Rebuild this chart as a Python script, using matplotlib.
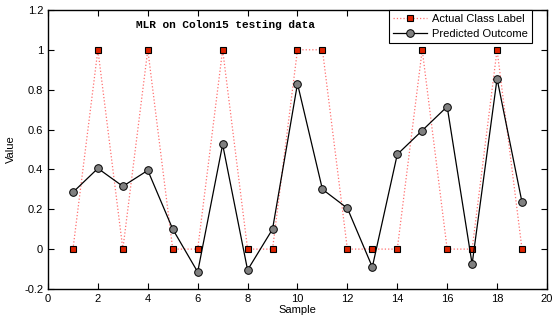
import matplotlib
matplotlib.use("Agg")
import matplotlib.pyplot as plt

samples = list(range(1, 20))
actual = [0, 1, 0, 1, 0, 0, 1, 0, 0, 1, 1, 0, 0, 0, 1, 0, 0, 1, 0]
predicted = [0.285, 0.405, 0.315, 0.395, 0.10, -0.115, 0.525, -0.105, 0.10, 0.83,
             0.30, 0.205, -0.09, 0.475, 0.595, 0.715, -0.075, 0.855, 0.235]

plt.rcParams['font.family'] = ['Liberation Sans', 'DejaVu Sans']
fig = plt.figure(figsize=(5.55, 3.2), dpi=100)
ax = fig.add_axes([0.0865, 0.097, 0.899, 0.872])

ax.plot(samples, actual, linestyle=':', color='#ff7070', linewidth=0.9,
        marker='s', markersize=5, markerfacecolor='#dd2200', markeredgecolor='black',
        markeredgewidth=0.8, label='Actual Class Label')
ax.plot(samples, predicted, linestyle='-', color='black', linewidth=0.9,
        marker='o', markersize=5.5, markerfacecolor='#808080', markeredgecolor='black',
        markeredgewidth=0.7, label='Predicted Outcome')

ax.set_xlim(0, 20)
ax.set_ylim(-0.2, 1.2)
ax.set_xticks(range(0, 21, 2))
ax.set_yticks([-0.2, 0, 0.2, 0.4, 0.6, 0.8, 1, 1.2])
ax.set_yticklabels(['-0.2', '0', '0.2', '0.4', '0.6', '0.8', '1', '1.2'])
ax.tick_params(direction='in', top=True, right=True, labelsize=8, length=4, width=0.8)
for s in ax.spines.values():
    s.set_linewidth(1.0)
ax.set_xlabel('Sample', fontsize=8, labelpad=1)
ax.set_ylabel('Value', fontsize=8, labelpad=6)

ax.text(7.1, 1.125, 'MLR on Colon15 testing data', family='Liberation Mono',
        fontweight='bold', fontsize=8, ha='center', va='center')

leg = ax.legend(loc='upper right', bbox_to_anchor=(0.970, 1.0), fontsize=8,
                frameon=True, fancybox=False, edgecolor='black', framealpha=1,
                borderpad=0.35, labelspacing=0.45, handlelength=3, handletextpad=0.5,
                borderaxespad=0)
leg.get_frame().set_linewidth(0.8)

fig.savefig('out.png', dpi=100)
